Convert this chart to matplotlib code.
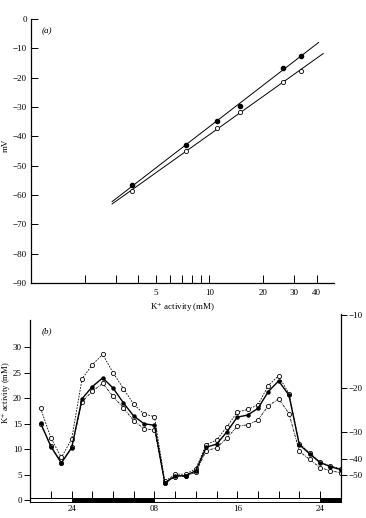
import numpy as np
import matplotlib
matplotlib.use("Agg")
import matplotlib.pyplot as plt
from matplotlib.patches import Rectangle
from matplotlib.ticker import FixedLocator, NullFormatter, FixedFormatter

plt.rcParams['font.family'] = ['Liberation Serif', 'DejaVu Serif']
plt.rcParams['mathtext.fontset'] = 'stix'
plt.rcParams['font.size'] = 6.5

# ---- panel (a): electrode calibration ----
ACTIVITY = [3.7, 7.4, 11.1, 14.8, 25.9, 32.6]          # K+ activity (mM)
MV_FILLED = [-56.6, -42.9, -34.7, -29.6, -16.7, -12.6]
MV_OPEN = [-58.5, -45.1, -37.1, -31.6, -21.4, -17.8]
FIT_START = 2.85
FIT_END_FILLED = 41.0
FIT_END_OPEN = 43.5
A_XTICKS_MAJOR = [5, 10, 20, 30, 40]
A_XTICKS_MINOR = [2, 3, 4, 6, 7, 8, 9]
A_YTICKS = list(range(0, -100, -10))

# ---- panel (b): K+ activity over time ----
HOURS = list(range(21, 51))
MEAN = [15.1, 10.5, 7.3, 10.3, 19.9, 22.3, 24.0, 22.0, 19.1, 16.5, 15.0, 14.7,
        3.4, 4.8, 4.8, 5.8, 10.4, 11.0, 13.4, 16.3, 16.7, 18.0, 21.3, 23.4,
        20.6, 10.9, 9.1, 7.4, 6.6, 6.0]
UPPER = [18.0, 12.2, 8.4, 12.0, 23.8, 26.6, 28.6, 25.0, 21.9, 18.8, 16.9, 16.4,
         3.7, 5.1, 5.1, 6.2, 10.9, 11.8, 14.4, 17.3, 17.8, 18.7, 22.5, 24.4,
         20.9, 11.1, 9.3, 7.5, 6.7, 6.2]
LOWER = [15.0, 10.6, 7.4, 10.4, 19.3, 21.4, 22.9, 20.4, 18.1, 15.6, 14.0, 13.8,
         3.3, 4.6, 4.7, 5.5, 9.7, 10.3, 12.2, 14.5, 14.8, 15.7, 18.5, 19.9,
         17.0, 9.6, 8.0, 6.4, 5.8, 5.4]
DARK = [(24, 32), (48, 50)]
B_XTICKS = list(range(22, 50, 2))
B_XLABELS = {24: '24', 32: '08', 40: '16', 48: '24'}
B_YTICKS = [0, 5, 10, 15, 20, 25, 30]
RIGHT_MV = [-10, -20, -30, -40, -50]
CAL_SLOPE = 46.0      # mV per decade
CAL_INTERCEPT = -81.8

W, H = 366, 518
fig = plt.figure(figsize=(W / 100, H / 100), dpi=100)

# panel (a)
ax_a = fig.add_axes([31 / W, 1 - 283 / H, 303 / W, 264 / H])
ax_a.set_xscale('log')
ax_a.set_xlim(1, 50)
ax_a.set_ylim(-90, 0)
for s in ['top', 'right']:
    ax_a.spines[s].set_visible(False)
for s in ['left', 'bottom']:
    ax_a.spines[s].set_linewidth(0.9)

logx = np.log10(ACTIVITY)
for mv, end in [(MV_FILLED, FIT_END_FILLED), (MV_OPEN, FIT_END_OPEN)]:
    m, c = np.polyfit(logx, mv, 1)
    xx = np.array([FIT_START, end])
    ax_a.plot(xx, m * np.log10(xx) + c, color='black', lw=0.7)
ax_a.plot(ACTIVITY, MV_FILLED, 'o', ms=3, color='black', zorder=3)
ax_a.plot(ACTIVITY, MV_OPEN, 'o', ms=3, mfc='white', mec='black', mew=0.6, zorder=3)

ax_a.xaxis.set_major_locator(FixedLocator(A_XTICKS_MAJOR))
ax_a.xaxis.set_major_formatter(FixedFormatter([str(v) for v in A_XTICKS_MAJOR]))
ax_a.xaxis.set_minor_locator(FixedLocator(A_XTICKS_MINOR))
ax_a.xaxis.set_minor_formatter(NullFormatter())
ax_a.tick_params(axis='x', which='both', direction='in', length=6, width=0.7, pad=4)
ax_a.set_yticks(A_YTICKS)
ax_a.set_yticklabels([('\u2212' + str(-v)) if v < 0 else str(v) for v in A_YTICKS])
ax_a.tick_params(axis='y', direction='in', length=5, width=0.7, pad=3)
ax_a.set_xlabel('K$^{+}$ activity (mM)', labelpad=3)
ax_a.set_ylabel('mV')
ax_a.yaxis.set_label_coords(-0.070, 0.523)
ax_a.text(47 / W, 1 - 31 / H, '(a)', transform=fig.transFigure, style='italic',
          ha='center', va='center')

# panel (b)
y_lo, y_hi = -0.4, 36.6
ax_b = fig.add_axes([30.3 / W, 1 - 502.3 / H, 310.4 / W, 188.7 / H])
ax_b.set_xlim(20, 50)
ax_b.set_ylim(y_lo, y_hi)
ax_b.spines['top'].set_visible(False)
ax_b.spines['right'].set_visible(False)
ax_b.spines['left'].set_bounds(y_lo, 35.3)
ax_b.spines['bottom'].set_position(('data', 0.5))
ax_b.spines['left'].set_linewidth(0.9)
ax_b.spines['bottom'].set_linewidth(0.7)

ax_b.add_patch(Rectangle((20, y_lo), 30, 0.5 - y_lo, facecolor='white',
                         edgecolor='black', lw=0.7, clip_on=False, zorder=1))
for a, b in DARK:
    ax_b.add_patch(Rectangle((a, y_lo), b - a, 0.5 - y_lo, facecolor='black',
                             edgecolor='black', lw=0.7, clip_on=False, zorder=1))

ax_b.plot(HOURS, UPPER, color='black', lw=0.6, ls=(0, (2, 1.5)),
          marker='o', ms=3, mfc='white', mec='black', mew=0.6, zorder=3)
ax_b.plot(HOURS, LOWER, color='black', lw=0.6, ls=(0, (3, 1.2, 1, 1.2)),
          marker='o', ms=3, mfc='white', mec='black', mew=0.6, zorder=3)
ax_b.plot(HOURS, MEAN, color='black', lw=1.0, marker='o', ms=2.2, zorder=4)

ax_b.set_xticks(B_XTICKS)
ax_b.set_xticklabels([B_XLABELS.get(h, '') for h in B_XTICKS])
ax_b.tick_params(axis='x', direction='in', length=5, width=0.7, pad=5)
ax_b.set_yticks(B_YTICKS)
ax_b.tick_params(axis='y', direction='out', length=4, width=0.7, pad=2)
ax_b.set_ylabel('K$^{+}$ activity (mM)', fontsize=6.2)
ax_b.yaxis.set_label_coords(-0.055, 0.579)
ax_b.text(47 / W, 1 - 331 / H, '(b)', transform=fig.transFigure, style='italic',
          ha='center', va='center')

ax_r = ax_b.twinx()
ax_r.set_ylim(y_lo, y_hi)
for s in ['top', 'left', 'bottom']:
    ax_r.spines[s].set_visible(False)
ax_r.spines['right'].set_bounds(0.5, y_hi)
ax_r.spines['right'].set_linewidth(0.9)
r_pos = [10 ** ((v - CAL_INTERCEPT) / CAL_SLOPE) for v in RIGHT_MV]
ax_r.set_yticks(r_pos)
ax_r.set_yticklabels(['\u2212' + str(-v) for v in RIGHT_MV])
ax_r.tick_params(axis='y', direction='out', length=4, width=0.7, pad=1.5)
ax_r.set_ylabel('mV', labelpad=6)

fig.savefig('out.png', dpi=100)
